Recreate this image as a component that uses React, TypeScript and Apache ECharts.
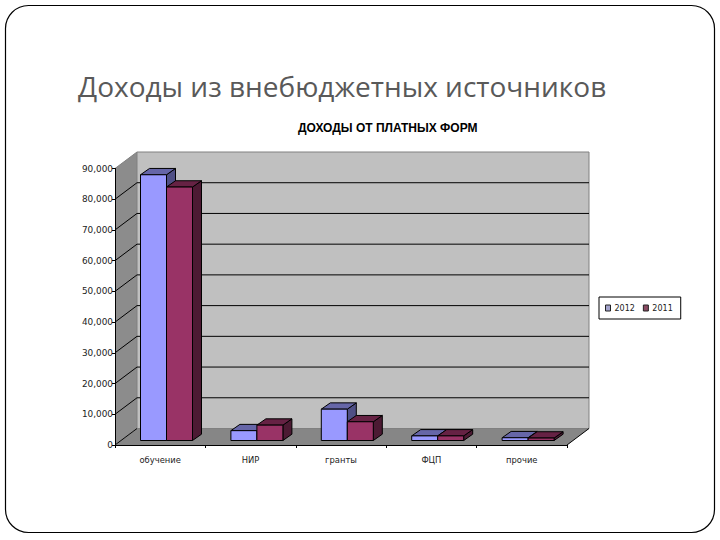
import React, { useEffect, useRef } from "react";
import * as echarts from "echarts";

const categories = ["обучение", "НИР", "гранты", "ФЦП", "прочие"];
const values2012 = [86500, 3200, 10200, 1500, 900];
const values2011 = [82500, 5000, 6100, 1500, 800];
const yTicks = [0, 10000, 20000, 30000, 40000, 50000, 60000, 70000, 80000, 90000];
const pageTitle = "Доходы из внебюджетных источников";
const chartTitle = "ДОХОДЫ ОТ ПЛАТНЫХ ФОРМ";
const series2012 = "2012";
const series2011 = "2011";

const WALL_DX = 22;
const WALL_DY = -16.5;
const BAR_OFFSET_X = 6.3;
const BAR_OFFSET_Y = -4.5;
const BAR_DX = 9;
const BAR_DY = -6.3;
const BAR_SHARE = 26 / 90.4;

const renderWalls = (_params: any, api: any) => {
  const [x0, y0] = api.coord([0, 0]);
  const band = api.size([1, 0])[0];
  const left = x0 - band / 2;
  const right = left + band * categories.length;
  const yTop = api.coord([0, yTicks[yTicks.length - 1]])[1];
  const children: any[] = [
    {
      type: "polygon",
      shape: { points: [[left, y0], [left + WALL_DX, y0 + WALL_DY], [left + WALL_DX, yTop + WALL_DY], [left, yTop]] },
      style: { fill: "#8C8C8C", stroke: "none" },
    },
    {
      type: "polygon",
      shape: { points: [[left, y0], [right, y0], [right + WALL_DX, y0 + WALL_DY], [left + WALL_DX, y0 + WALL_DY]] },
      style: { fill: "#868686", stroke: "none" },
    },
    {
      type: "rect",
      shape: { x: left + WALL_DX, y: yTop + WALL_DY, width: right - left, height: y0 - yTop },
      style: { fill: "#C0C0C0", stroke: "#808080", lineWidth: 1 },
    },
  ];
  yTicks.forEach((t, i) => {
    const y = api.coord([0, t])[1];
    const isEdge = i === yTicks.length - 1;
    children.push({
      type: "line",
      shape: { x1: left, y1: y, x2: left + WALL_DX, y2: y + WALL_DY },
      style: { stroke: isEdge ? "#808080" : "#000000", lineWidth: 1 },
    });
    if (i > 0 && !isEdge) {
      children.push({
        type: "line",
        shape: { x1: left + WALL_DX, y1: y + WALL_DY, x2: right + WALL_DX, y2: y + WALL_DY },
        style: { stroke: "#000000", lineWidth: 1 },
      });
    }
  });
  children.push({
    type: "line",
    shape: { x1: right, y1: y0, x2: right + WALL_DX, y2: y0 + WALL_DY },
    style: { stroke: "#000000", lineWidth: 1 },
  });
  return { type: "group", children };
};

const makeBarRenderer =
  (slot: number, front: string, top: string, side: string) => (_params: any, api: any) => {
    const idx = api.value(0);
    const val = api.value(1);
    const [cx, y0] = api.coord([idx, 0]);
    const yv = api.coord([idx, val])[1];
    const band = api.size([1, 0])[0];
    const w = band * BAR_SHARE;
    const xa = cx + BAR_OFFSET_X + (slot - 1) * w;
    const xb = xa + w;
    const yb = y0 + BAR_OFFSET_Y;
    const yt = yv + BAR_OFFSET_Y;
    const line = { stroke: "#000000", lineWidth: 1, lineJoin: "round" };
    return {
      type: "group",
      children: [
        {
          type: "polygon",
          shape: { points: [[xb, yb], [xb + BAR_DX, yb + BAR_DY], [xb + BAR_DX, yt + BAR_DY], [xb, yt]] },
          style: { fill: side, ...line },
        },
        {
          type: "polygon",
          shape: { points: [[xa, yt], [xb, yt], [xb + BAR_DX, yt + BAR_DY], [xa + BAR_DX, yt + BAR_DY]] },
          style: { fill: top, ...line },
        },
        {
          type: "rect",
          shape: { x: xa, y: yt, width: w, height: yb - yt },
          style: { fill: front, ...line },
        },
      ],
    };
  };

export default function App() {
  const ref = useRef<HTMLDivElement>(null);
  useEffect(() => {
    const chart = echarts.init(ref.current!, null, { renderer: "svg" });
    const axisFont = { fontFamily: "DejaVu Sans", color: "#222222" };
    chart.setOption({
      animation: false,
      backgroundColor: "#FFFFFF",
      title: [
        {
          text: pageTitle,
          left: 78,
          top: 72,
          padding: 0,
          textStyle: { fontFamily: "Open Sans", fontSize: 28, fontWeight: "normal", color: "#595959" },
        },
        {
          text: chartTitle,
          left: 298,
          top: 122,
          padding: 0,
          textStyle: { fontFamily: "Liberation Sans", fontSize: 12, fontWeight: "bold", color: "#000000" },
        },
      ],
      graphic: [
        {
          type: "rect",
          z: -1,
          shape: { x: 5.5, y: 5.5, width: 709, height: 527, r: 23 },
          style: { fill: "#FFFFFF", stroke: "#000000", lineWidth: 1.2 },
        },
      ],
      legend: {
        left: 599,
        top: 297,
        orient: "horizontal",
        data: [
          { name: series2012, itemStyle: { color: "#A3A3CC", borderColor: "#222222", borderWidth: 1 } },
          { name: series2011, itemStyle: { color: "#8A4A62", borderColor: "#222222", borderWidth: 1 } },
        ],
        backgroundColor: "#FFFFFF",
        borderColor: "#000000",
        borderWidth: 1,
        padding: [7, 8, 7, 6],
        itemWidth: 5,
        itemHeight: 6,
        itemGap: 8,
        icon: "rect",
        textStyle: { ...axisFont, fontSize: 8, padding: [0, 0, 0, -1] },
      },
      grid: { left: 115, right: 153, top: 168.5, bottom: 95, containLabel: false },
      xAxis: {
        type: "category",
        data: categories,
        z: 5,
        axisLine: { lineStyle: { color: "#000000", width: 1 } },
        axisTick: { show: true, length: 3, lineStyle: { color: "#000000" } },
        axisLabel: { ...axisFont, fontSize: 8.4, margin: 11, interval: 0 },
        splitLine: { show: false },
      },
      yAxis: {
        type: "value",
        min: 0,
        max: 90000,
        interval: 10000,
        z: 5,
        axisLine: { show: true, lineStyle: { color: "#000000", width: 1 } },
        axisTick: { show: true, length: 3, lineStyle: { color: "#000000" } },
        axisLabel: {
          ...axisFont,
          fontSize: 8.9,
          margin: 2,
          padding: [2, 0, 0, 0],
          formatter: (v: number) => v.toLocaleString("en-US"),
        },
        splitLine: { show: false },
      },
      series: [
        {
          type: "custom",
          name: "walls",
          silent: true,
          z: 1,
          data: [[0, 0]],
          encode: { x: 0, y: 1 },
          renderItem: renderWalls,
        },
        {
          type: "custom",
          name: series2012,
          z: 3,
          data: values2012.map((v, i) => [i, v]),
          encode: { x: 0, y: 1 },
          renderItem: makeBarRenderer(0, "#9999FF", "#6666A8", "#4F4F85"),
        },
        {
          type: "custom",
          name: series2011,
          z: 3,
          data: values2011.map((v, i) => [i, v]),
          encode: { x: 0, y: 1 },
          renderItem: makeBarRenderer(1, "#993366", "#662244", "#4C1A33"),
        },
      ],
    });
    return () => chart.dispose();
  }, []);
  return (
    <div
      ref={ref}
      style={{ position: "absolute", left: 0, top: 0, width: 720, height: 540 }}
    />
  );
}
